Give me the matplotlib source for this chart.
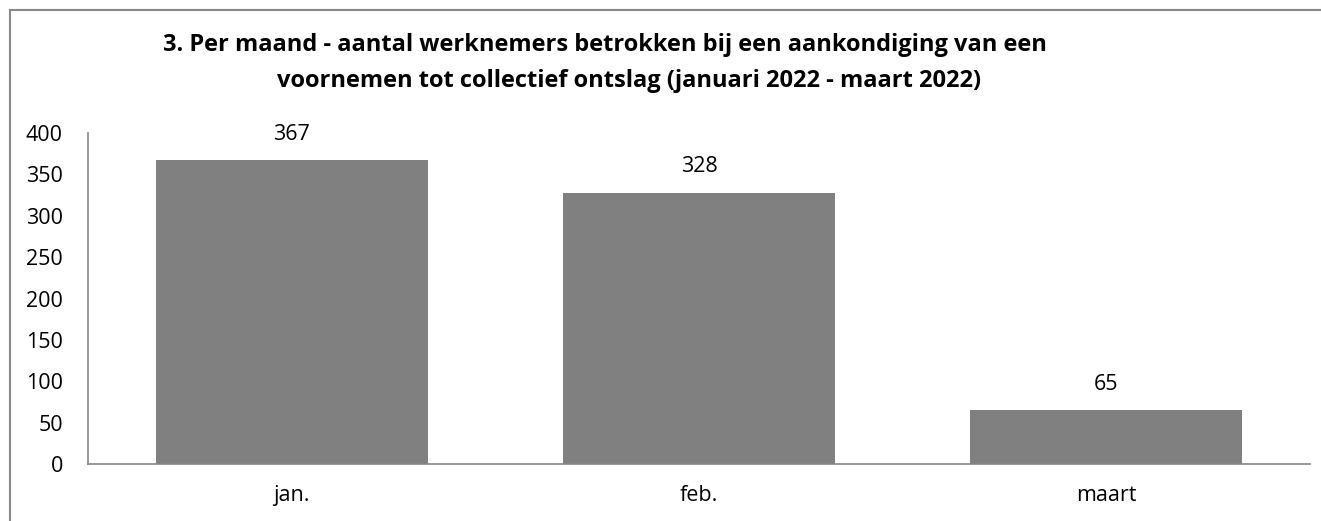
import matplotlib.pyplot as plt
from matplotlib.lines import Line2D

months = ['jan.', 'feb.', 'maart']
workers = [367, 328, 65]
yticks = [0, 50, 100, 150, 200, 250, 300, 350, 400]
title_1 = '3. Per maand - aantal werknemers betrokken bij een aankondiging van een'
title_2 = 'voornemen tot collectief ontslag (januari 2022 - maart 2022)'

plt.rcParams['font.family'] = ['Open Sans', 'DejaVu Sans']

fig = plt.figure(figsize=(13.21, 5.21), dpi=100)
ax = fig.add_axes([0.0666, 0.1094, 0.9251, 0.6353])

x = range(len(months))
bars = ax.bar(x, workers, width=0.668, color='#808080')
ax.set_xlim(-0.5, len(months) - 0.5)
ax.set_ylim(0, 400)
ax.set_yticks(yticks)
ax.set_xticks(list(x))
ax.set_xticklabels(months)
ax.tick_params(axis='both', length=0, labelsize=15.5, colors='black')
ax.tick_params(axis='y', pad=18)
ax.tick_params(axis='x', pad=15)

for s in ['top', 'right']:
    ax.spines[s].set_visible(False)
for s in ['left', 'bottom']:
    ax.spines[s].set_color('#868686')
    ax.spines[s].set_linewidth(1.2)

for b, v in zip(bars, workers):
    ax.annotate(str(v), (b.get_x() + b.get_width() / 2, v), xytext=(0, 11),
                textcoords='offset points', ha='center', va='bottom', fontsize=15.5)

fig.text(0.458, 0.902, title_1, ha='center', va='baseline', fontsize=17, fontweight='bold')
fig.text(0.476, 0.833, title_2, ha='center', va='baseline', fontsize=17, fontweight='bold')

# frame lines (top and left only visible)
fig.add_artist(Line2D([0.0075, 1.0], [0.9815, 0.9815], color='#888888', lw=1.5, transform=fig.transFigure))
fig.add_artist(Line2D([0.0075, 0.0075], [0.0, 0.9815], color='#888888', lw=1.5, transform=fig.transFigure))

fig.savefig('out.png', dpi=100)
